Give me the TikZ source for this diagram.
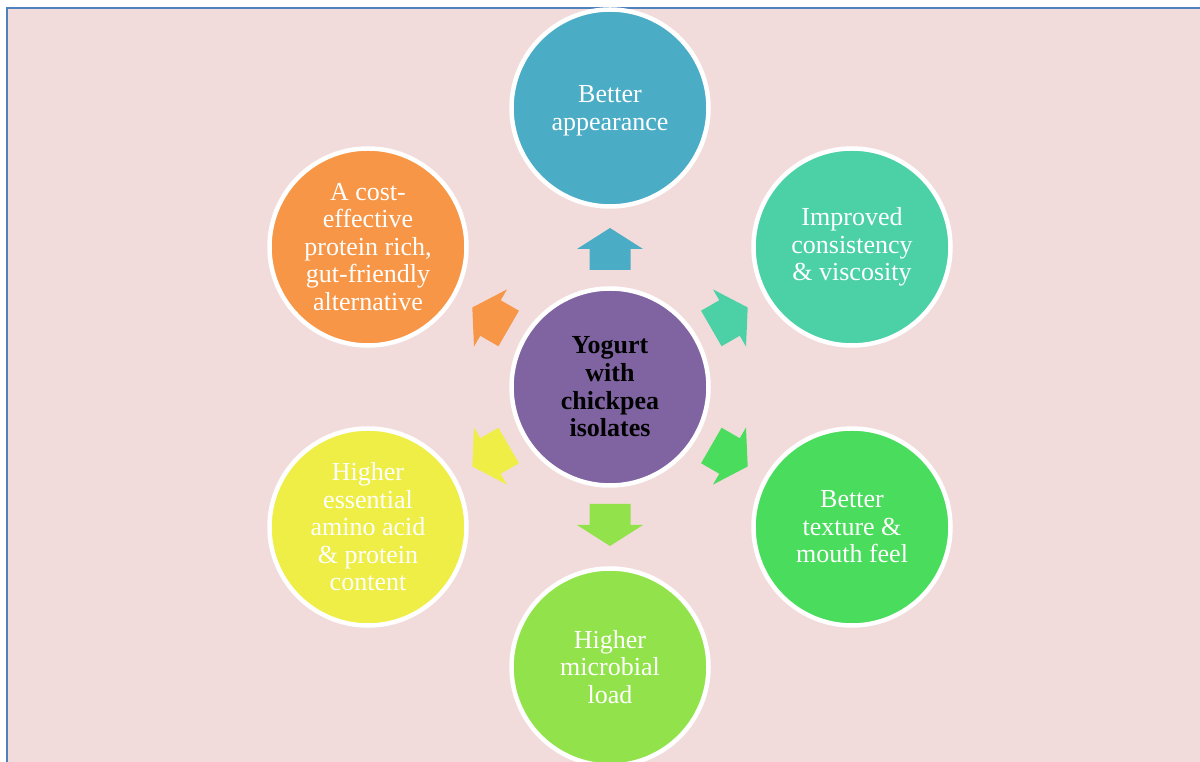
\documentclass[tikz,border=0pt]{standalone}
\usepackage{fontspec}
\setmainfont{Liberation Serif}
\definecolor{bgpink}{HTML}{F2DCDB}
\definecolor{frameblue}{HTML}{4F81BD}
\definecolor{cA}{HTML}{4BACC6}
\definecolor{cB}{HTML}{4BD1A5}
\definecolor{cC}{HTML}{4ADC5C}
\definecolor{cD}{HTML}{92E34B}
\definecolor{cE}{HTML}{EEEE46}
\definecolor{cF}{HTML}{F79646}
\definecolor{cM}{HTML}{8064A2}
\tikzset{
  bubble/.style={circle, minimum size=197pt, inner sep=0pt, draw=white, line width=4.5pt,
    align=center, text=white, font=\fontsize{26}{27.5}\selectfont},
  hub/.style={bubble, text=black, font=\fontsize{26}{27.7}\selectfont\bfseries},
  bubbletext/.style={align=center, text=white, inner sep=0pt, font=\fontsize{26}{27.5}\selectfont},
}
\begin{document}
\begin{tikzpicture}[x=1pt,y=1pt]
\useasboundingbox (0,0) rectangle (1200,762);
\fill[white] (0,0) rectangle (1200,762);
\fill[bgpink] (7,0) rectangle (1200,754);
\draw[frameblue, line width=2pt] (7,0) -- (7,754) -- (1200,754);
% arrows
\foreach \a/\c in {90/cA, 30/cB, -30/cC, -90/cD, -150/cE, 150/cF}
  \fill[\c, shift={(610,375)}, rotate=\a]
    (117,-20.5) -- (138,-20.5) -- (138,-33) -- (159,0) -- (138,33) -- (138,20.5) -- (117,20.5) -- cycle;
\node[hub, fill=cM] (center) at (610,375) {Yogurt\\with\\chickpea\\isolates};
\node[bubble, fill=cA] (top) at (610,654) {};
\node[bubbletext] (toptext) at (610,651) {Better\\appearance};
\node[bubble, fill=cB] (tr) at (852,515) {Improved\\consistency\\\& viscosity};
\node[bubble, fill=cC] (br) at (852,235) {Better\\texture \&\\mouth feel};
\node[bubble, fill=cD] (bot) at (610,95) {Higher\\microbial\\load};
\node[bubble, fill=cE] (bl) at (368,235) {Higher\\essential\\amino acid\\\& protein\\content};
\node[bubble, fill=cF] (tl) at (368,515) {A cost-\\effective\\protein rich,\\gut-friendly\\alternative};
\end{tikzpicture}
\end{document}
